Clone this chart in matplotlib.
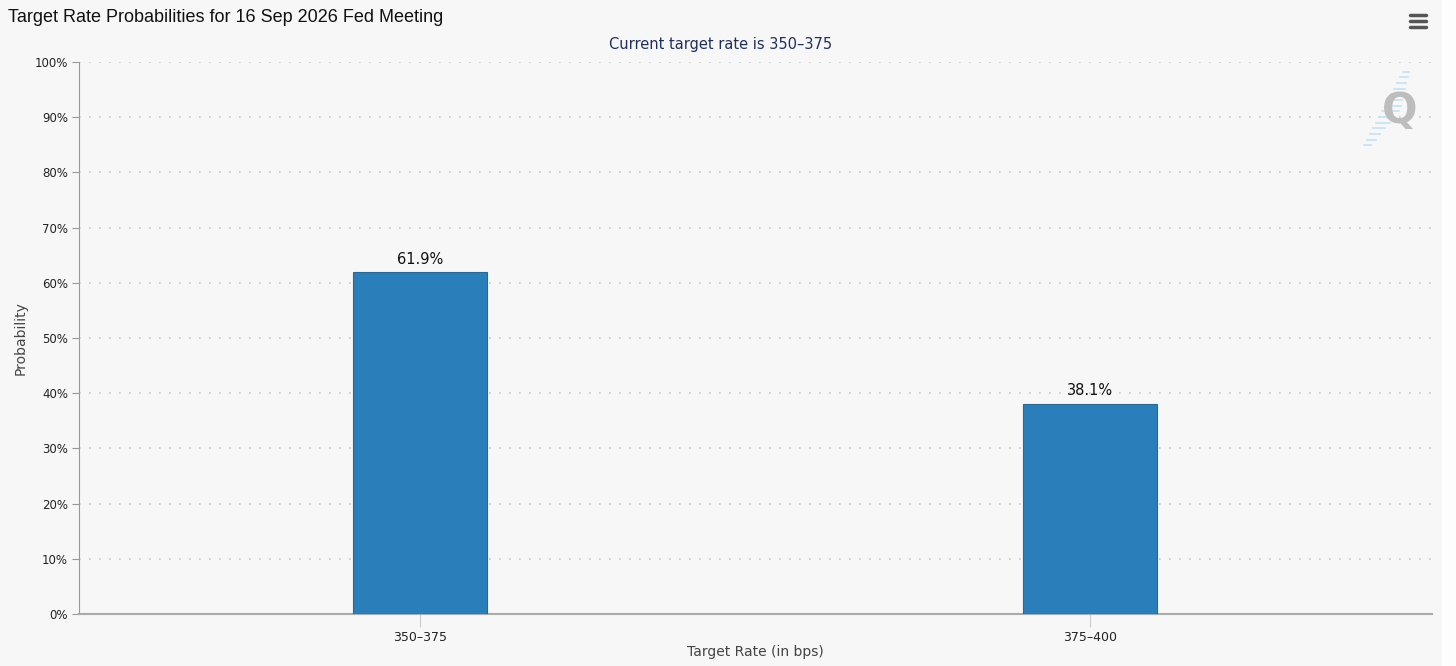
import matplotlib
matplotlib.use("Agg")
import matplotlib.pyplot as plt
from matplotlib.patches import Rectangle
from matplotlib.ticker import PercentFormatter

categories = ["350\u2013375", "375\u2013400"]
probabilities = [61.9, 38.1]
yticks = [0, 10, 20, 30, 40, 50, 60, 70, 80, 90, 100]

bg = "#f7f7f7"
bar_color = "#2a7fba"

fig = plt.figure(figsize=(14.56, 6.66), dpi=100, facecolor=bg)
# white strip on the right edge of the screenshot
fig.add_artist(Rectangle((0.9904, 0), 0.0096, 1, transform=fig.transFigure,
                         facecolor="#fdfdfd", edgecolor="none"))
ax = fig.add_axes([0.0543, 0.0781, 0.9292, 0.8288], facecolor=bg)

x = list(range(len(categories)))
bars = ax.bar(x, probabilities, width=0.2, color=bar_color,
              edgecolor="#1f6a9e", linewidth=0.8, zorder=3)
for b, v in zip(bars, probabilities):
    ax.annotate(f"{v:.1f}%", (b.get_x() + b.get_width() / 2, v),
                xytext=(0, 4), textcoords="offset points",
                ha="center", va="bottom", fontsize=10.5, color="#111111")

ax.set_xlim(-0.509, 1.510)
ax.set_ylim(0, 100)
ax.set_xticks(x)
ax.set_xticklabels(categories)
ax.set_yticks(yticks)
ax.yaxis.set_major_formatter(PercentFormatter(decimals=0))
ax.tick_params(axis="y", length=5, color="#999999", labelsize=8.5,
               labelcolor="#222222", pad=3)
ax.tick_params(axis="x", length=9, color="#cccccc", labelsize=9,
               labelcolor="#222222", pad=3)
ax.grid(axis="y", color="#c8c8c8", linestyle=(0, (1, 5)), linewidth=1.2, zorder=0)
for s in ["top", "right"]:
    ax.spines[s].set_visible(False)
ax.spines["left"].set_color("#999999")
ax.spines["bottom"].set_color("#aaaaaa")
ax.spines["bottom"].set_linewidth(1.5)

ax.set_ylabel("Probability", fontsize=10, color="#444444", labelpad=5)
ax.set_xlabel("Target Rate (in bps)", fontsize=10, color="#444444", labelpad=1)

fig.text(0.0055, 0.973, "Target Rate Probabilities for 16 Sep 2026 Fed Meeting",
         family="Liberation Sans", fontsize=13, color="#111111", va="center")
fig.text(0.495, 0.933, "Current target rate is 350\u2013375", fontsize=10.5,
         color="#1f2f5f", ha="center", va="center")

# watermark logo
for i in range(14):
    length = 0.004 + 0.008 * (1 - abs(i - 6) / 7)
    x0 = 0.9365 + i * 0.0021
    fig.add_artist(plt.Line2D([x0, x0 + length],
                              [0.782 + i * 0.0085, 0.782 + i * 0.0085],
                              color="#bfe0f5", linewidth=1.2, alpha=0.9))
fig.text(0.961, 0.833, "Q", fontsize=30, fontweight="bold", color="#bdbdbd",
         ha="center", va="center")

# menu icon
for yy in [0.978, 0.969, 0.960]:
    fig.add_artist(plt.Line2D([0.9685, 0.9795], [yy, yy], color="#555555",
                              linewidth=2.5, solid_capstyle="round"))

fig.savefig("out.png", dpi=100, facecolor=bg)
